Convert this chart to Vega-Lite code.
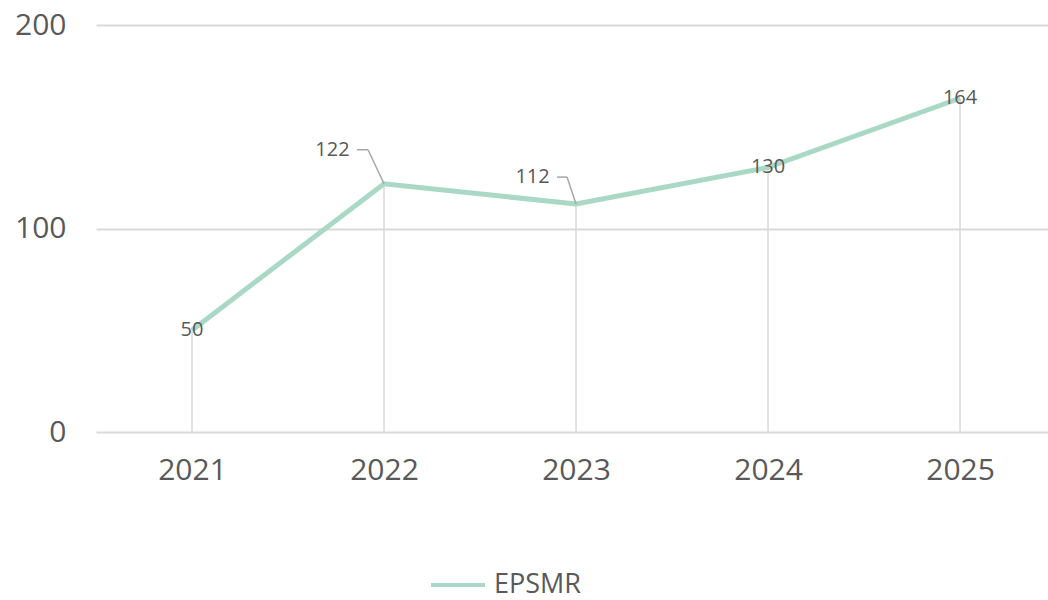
{
  "$schema": "https://vega.github.io/schema/vega-lite/v6.json",
  "width": 952,
  "height": 407,
  "autosize": {"type": "none"},
  "padding": {"left": 96, "top": 25, "right": 0, "bottom": 168},
  "background": "#ffffff",
  "config": {
    "view": {"stroke": null},
    "font": "Open Sans"
  },
  "data": {
    "values": [
      {"year": 2021, "series": "EPSMR", "value": 50},
      {"year": 2022, "series": "EPSMR", "value": 122},
      {"year": 2023, "series": "EPSMR", "value": 112},
      {"year": 2024, "series": "EPSMR", "value": 130},
      {"year": 2025, "series": "EPSMR", "value": 164}
    ]
  },
  "encoding": {
    "x": {
      "field": "year",
      "type": "quantitative",
      "scale": {"domain": [2020.5, 2025.458], "nice": false, "zero": false},
      "axis": {
        "title": null,
        "domain": false,
        "ticks": false,
        "grid": false,
        "values": [2021, 2022, 2023, 2024, 2025],
        "format": "d",
        "labelAngle": 0,
        "labelFontSize": 30,
        "labelColor": "#595959",
        "labelPadding": 23,
        "labelFont": "Open Sans"
      }
    },
    "y": {
      "field": "value",
      "type": "quantitative",
      "scale": {"domain": [0, 200], "nice": false},
      "axis": {
        "title": null,
        "domain": false,
        "ticks": false,
        "grid": true,
        "gridColor": "#d9d9d9",
        "gridWidth": 2,
        "values": [0, 100, 200],
        "labelFontSize": 30,
        "labelColor": "#595959",
        "labelPadding": 30,
        "labelFont": "Open Sans"
      }
    }
  },
  "layer": [
    {
      "mark": {"type": "rule", "color": "#d9d9d9", "strokeWidth": 1.5},
      "encoding": {"y2": {"datum": 0}}
    },
    {
      "mark": {"type": "line", "strokeWidth": 5},
      "encoding": {
        "color": {
          "field": "series",
          "type": "nominal",
          "scale": {"range": ["#a9d8c6"]},
          "legend": {
            "orient": "none",
            "legendX": 333,
            "legendY": 531,
            "title": null,
            "padding": 0,
            "symbolType": "stroke",
            "symbolSize": 2916,
            "symbolStrokeWidth": 4,
            "labelFontSize": 27,
            "labelColor": "#595959",
            "labelOffset": 7,
            "labelFont": "Open Sans"
          }
        }
      }
    },
    {
      "transform": [{"filter": "datum.year == 2022"}],
      "mark": {"type": "rule", "color": "#a6a6a6", "strokeWidth": 1.5, "x2Offset": -16, "y2Offset": -34},
      "encoding": {"x2": {"field": "year"}, "y2": {"field": "value"}}
    },
    {
      "transform": [{"filter": "datum.year == 2022"}],
      "mark": {"type": "rule", "color": "#a6a6a6", "strokeWidth": 1.5, "xOffset": -27, "yOffset": -34, "x2Offset": -16, "y2Offset": -34},
      "encoding": {"x2": {"field": "year"}, "y2": {"field": "value"}}
    },
    {
      "transform": [{"filter": "datum.year == 2023"}],
      "mark": {"type": "rule", "color": "#a6a6a6", "strokeWidth": 1.5, "x2Offset": -9, "y2Offset": -27},
      "encoding": {"x2": {"field": "year"}, "y2": {"field": "value"}}
    },
    {
      "transform": [{"filter": "datum.year == 2023"}],
      "mark": {"type": "rule", "color": "#a6a6a6", "strokeWidth": 1.5, "xOffset": -19, "yOffset": -27, "x2Offset": -9, "y2Offset": -27},
      "encoding": {"x2": {"field": "year"}, "y2": {"field": "value"}}
    },
    {
      "transform": [{"filter": "datum.year == 2021 || datum.year == 2024 || datum.year == 2025"}],
      "mark": {"type": "text", "fontSize": 20, "font": "Open Sans", "color": "#595959", "align": "center", "baseline": "middle"},
      "encoding": {"text": {"field": "value", "type": "quantitative"}}
    },
    {
      "transform": [{"filter": "datum.year == 2022"}],
      "mark": {"type": "text", "fontSize": 20, "font": "Open Sans", "color": "#595959", "align": "center", "baseline": "middle", "dx": -51.5, "dy": -33.5},
      "encoding": {"text": {"field": "value", "type": "quantitative"}}
    },
    {
      "transform": [{"filter": "datum.year == 2023"}],
      "mark": {"type": "text", "fontSize": 20, "font": "Open Sans", "color": "#595959", "align": "center", "baseline": "middle", "dx": -43.5, "dy": -27},
      "encoding": {"text": {"field": "value", "type": "quantitative"}}
    }
  ]
}
